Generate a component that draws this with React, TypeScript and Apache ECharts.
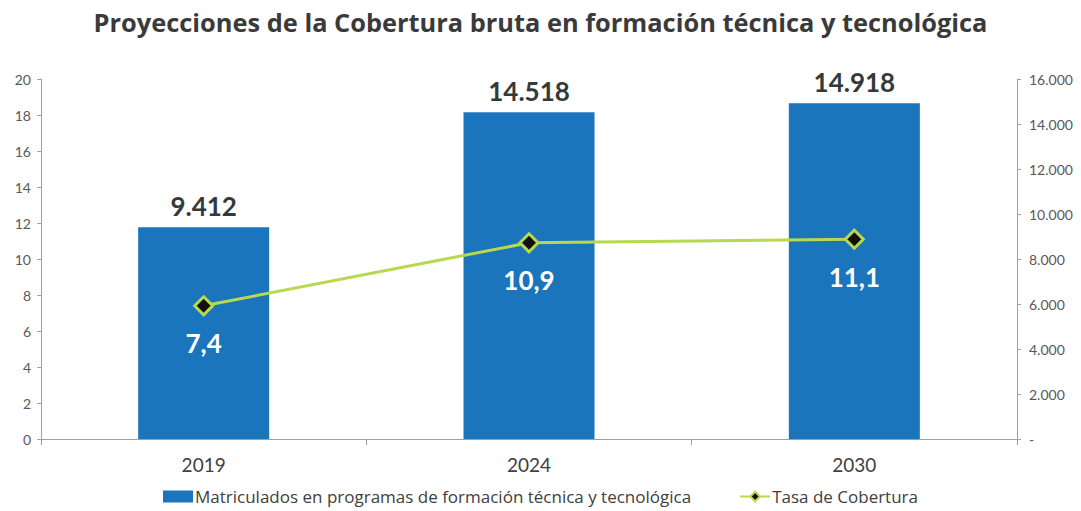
import React, { useEffect, useRef } from "react";
import * as echarts from "echarts";

const categories = ["2019", "2024", "2030"];
const matriculados = [9412, 14518, 14918];
const tasaCobertura = [7.4, 10.9, 11.1];
const leftTicks = { min: 0, max: 20, interval: 2 };
const rightTicks = { min: 0, max: 16000, interval: 2000 };

const fmtThousands = (v: number) =>
  String(Math.round(v)).replace(/\B(?=(\d{3})+(?!\d))/g, ".");

export default function App() {
  const ref = useRef<HTMLDivElement>(null);
  useEffect(() => {
    if (!ref.current) return;
    const chart = echarts.init(ref.current, null, { renderer: "svg" });
    const font = "Lato";
    chart.setOption({
      animation: false,
      textStyle: { fontFamily: font },
      title: {
        text: "Proyecciones de la Cobertura bruta en formación técnica y tecnológica",
        left: "center",
        top: 4,
        textStyle: { fontFamily: "Open Sans", fontSize: 25.4, fontWeight: "bold", color: "#3a3a3a" },
      },
      grid: { left: 41, right: 64, top: 79, bottom: 72 },
      legend: {
        bottom: 1,
        left: "center",
        itemGap: 48,
        itemWidth: 30,
        itemHeight: 12,
        textStyle: { fontFamily: "Open Sans", fontSize: 17, color: "#404040", padding: [0, 0, 0, -3] },
        data: [
          { name: "Matriculados en programas de formación técnica y tecnológica", icon: "rect" },
          { name: "Tasa de Cobertura" },
        ],
      },
      xAxis: {
        type: "category",
        data: categories,
        boundaryGap: true,
        axisLine: { lineStyle: { color: "#a0a0a0", width: 1 } },
        axisTick: { show: true, length: 6, lineStyle: { color: "#a0a0a0" } },
        axisLabel: { fontFamily: font, fontSize: 19, color: "#404040", margin: 16 },
      },
      yAxis: [
        {
          type: "value",
          min: leftTicks.min,
          max: leftTicks.max,
          interval: leftTicks.interval,
          splitLine: { show: false },
          axisLine: { show: true, lineStyle: { color: "#a0a0a0" } },
          axisTick: { show: true, length: 4, lineStyle: { color: "#a0a0a0" } },
          axisLabel: { fontFamily: font, fontSize: 14, color: "#595959", margin: 10 },
        },
        {
          type: "value",
          min: rightTicks.min,
          max: rightTicks.max,
          interval: rightTicks.interval,
          position: "right",
          splitLine: { show: false },
          axisLine: { show: true, lineStyle: { color: "#a0a0a0" } },
          axisTick: { show: true, length: 4, lineStyle: { color: "#a0a0a0" } },
          axisLabel: {
            fontFamily: font,
            fontSize: 14,
            color: "#595959",
            margin: 12,
            formatter: (v: number) => (v === 0 ? "-" : fmtThousands(v)),
          },
        },
      ],
      series: [
        {
          name: "Matriculados en programas de formación técnica y tecnológica",
          type: "bar",
          yAxisIndex: 1,
          data: matriculados,
          barWidth: 131,
          itemStyle: { color: "#1B75BC" },
          label: {
            show: true,
            position: "top",
            distance: 8,
            formatter: (p: any) => fmtThousands(p.value),
            fontFamily: font,
            fontSize: 26,
            fontWeight: "bold",
            color: "#333a3a",
          },
        },
        {
          name: "Tasa de Cobertura",
          type: "line",
          yAxisIndex: 0,
          data: tasaCobertura,
          symbol: "diamond",
          symbolSize: 18,
          lineStyle: { color: "#B7D84F", width: 3 },
          itemStyle: { color: "#111111", borderColor: "#B7D84F", borderWidth: 3 },
          label: {
            show: true,
            position: "bottom",
            distance: 14,
            formatter: (p: any) => String(p.value).replace(".", ","),
            fontFamily: font,
            fontSize: 26,
            fontWeight: "bold",
            color: "#ffffff",
          },
          z: 5,
        },
      ],
    });
    return () => chart.dispose();
  }, []);
  return <div ref={ref} style={{ width: 1081, height: 511, position: "absolute", left: 0, top: 0 }} />;
}
